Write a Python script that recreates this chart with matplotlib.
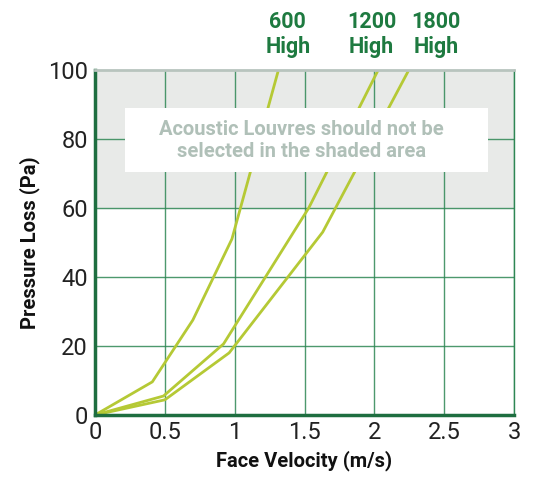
import matplotlib
matplotlib.use('Agg')
import matplotlib.pyplot as plt
from matplotlib.patches import Rectangle

plt.rcParams['font.family'] = ['Roboto', 'DejaVu Sans']

# ==================== Data ====================
v_600 = [0, 0.41, 0.70, 0.98, 1.32]
p_600 = [0, 9.6, 27.5, 51, 101]

v_1200 = [0, 0.49, 0.92, 1.53, 2.04]
p_1200 = [0, 5.5, 20.6, 60, 101]

v_1800 = [0, 0.50, 0.96, 1.63, 2.26]
p_1800 = [0, 4.4, 18, 53, 101]

series_labels = ['600\nHigh', '1200\nHigh', '1800\nHigh']
x_ticks = [0, 0.5, 1, 1.5, 2, 2.5, 3]
x_tick_labels = ['0', '0.5', '1', '1.5', '2', '2.5', '3']
y_ticks = [0, 20, 40, 60, 80, 100]

# ==================== Style ====================
LINE_COLOR = '#B5C935'
GRID_COLOR = '#2E8754'
SPINE_COLOR = '#1E6E40'
SHADE_COLOR = '#E8EAE8'
LABEL_GREEN = '#1E7A40'
NOTE_GRAY = '#B0C0B8'

fig = plt.figure(figsize=(5.4, 4.82), dpi=100)
ax = fig.add_axes([0.176, 0.139, 0.776, 0.716])

ax.set_xlim(0, 3)
ax.set_ylim(0, 100)

# shaded "do not select" region
ax.axhspan(60, 100, color=SHADE_COLOR, zorder=0)

# grid
for xv in x_ticks[1:]:
    ax.axvline(xv, color=GRID_COLOR, linewidth=1.0, alpha=0.85, zorder=1)
for yv in y_ticks[1:-1]:
    ax.axhline(yv, color=GRID_COLOR, linewidth=1.0, alpha=0.85, zorder=1)

# curves
for v, p in [(v_600, p_600), (v_1200, p_1200), (v_1800, p_1800)]:
    ax.plot(v, p, color=LINE_COLOR, linewidth=2.0, zorder=3,
            solid_capstyle='round', clip_on=True)

# white note box over the shaded area
ax.add_patch(Rectangle((0.215, 70.5), 2.6, 18.5, facecolor='white',
                       edgecolor='none', zorder=4))
ax.text(1.48, 79.5, 'Acoustic Louvres should not be\nselected in the shaded area',
        ha='center', va='center', fontsize=14.5, fontweight='bold',
        color=NOTE_GRAY, linespacing=1.2, zorder=5)

# labels at the top of each curve
label_x = [1.38, 1.98, 2.44]
for lx, lab in zip(label_x, series_labels):
    ax.text(lx, 103.5, lab, ha='center', va='bottom', fontsize=15.5,
            fontweight='bold', color=LABEL_GREEN, linespacing=1.15,
            clip_on=False)

# spines
ax.spines['left'].set_color(SPINE_COLOR)
ax.spines['left'].set_linewidth(2.5)
ax.spines['bottom'].set_color(SPINE_COLOR)
ax.spines['bottom'].set_linewidth(2.5)
ax.spines['right'].set_color(GRID_COLOR)
ax.spines['right'].set_linewidth(1.0)
ax.spines['top'].set_color('#B8C4BE')
ax.spines['top'].set_linewidth(2.0)
for s in ax.spines.values():
    s.set_zorder(6)

ax.set_xticks(x_ticks)
ax.set_xticklabels(x_tick_labels)
ax.set_yticks(y_ticks)
ax.tick_params(axis='both', length=0, labelsize=17, colors='#222222')
ax.tick_params(axis='x', pad=4)
ax.tick_params(axis='y', pad=5)

ax.set_xlabel('Face Velocity (m/s)', fontsize=14.5, fontweight='semibold',
              color='#111111', labelpad=5)
ax.set_ylabel('Pressure Loss (Pa)', fontsize=14.5, fontweight='semibold',
              color='#111111', labelpad=6)

fig.savefig('out.png', dpi=100, facecolor='white')
